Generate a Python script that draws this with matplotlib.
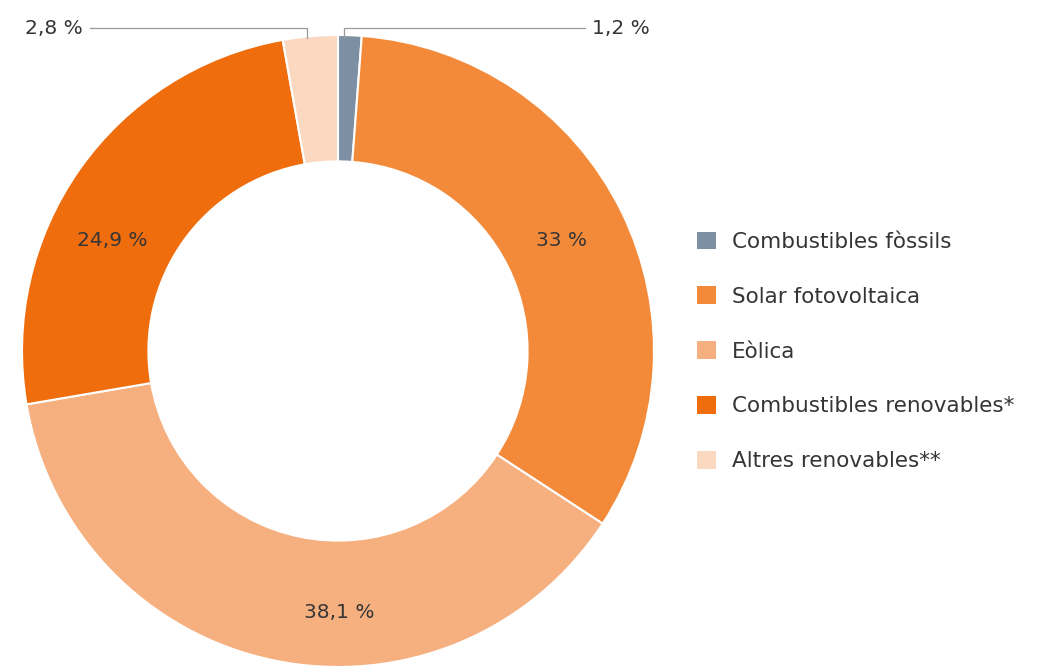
import matplotlib.pyplot as plt
from matplotlib.patches import Patch

plt.rcParams['font.family'] = ['DejaVu Sans']

categories = ['Combustibles fòssils', 'Solar fotovoltaica', 'Eòlica',
              'Combustibles renovables*', 'Altres renovables**']
shares = [1.2, 33.0, 38.1, 24.9, 2.8]
share_labels = ['1,2 %', '33 %', '38,1 %', '24,9 %', '2,8 %']
colors = ['#7d8fa3', '#f28a3a', '#f6b07f', '#ef6d0d', '#fbd9c1']

fig = plt.figure(figsize=(10.4, 6.71), dpi=100)
ax = fig.add_axes([0, 0, 1, 1])

cx, cy, r = 338, 351, 316
wedges, _ = ax.pie(shares, colors=colors, startangle=-90, counterclock=True,
                   center=(cx, cy), radius=r, frame=True,
                   wedgeprops=dict(width=r * 0.4, edgecolor='white', linewidth=1.5))
ax.set_xlim(0, 1040)
ax.set_ylim(671, 0)
ax.set_aspect('equal')
ax.axis('off')

txt = '#353535'
fs = 14.5
# labels inside the ring
ax.text(562, 240, share_labels[1], fontsize=fs, color=txt, ha='center', va='center')
ax.text(339, 613, share_labels[2], fontsize=fs, color=txt, ha='center', va='center')
ax.text(112, 240, share_labels[3], fontsize=fs, color=txt, ha='center', va='center')

# small slices with leader lines
ax.text(592, 28, share_labels[0], fontsize=fs, color=txt, ha='left', va='center')
ax.plot([585, 344, 344], [28, 28, 38], color='#999999', lw=0.9)
ax.text(83, 28, share_labels[4], fontsize=fs, color=txt, ha='right', va='center')
ax.plot([90, 307, 307], [28, 28, 38], color='#999999', lw=0.9)

handles = [Patch(facecolor=c, edgecolor='none') for c in colors]
leg = ax.legend(handles, categories, loc='upper left', bbox_to_anchor=(688 / 1040, 1 - 223 / 671),
                frameon=False, fontsize=15.5, labelspacing=1.6, handlelength=0.9,
                handleheight=0.9, handletextpad=0.75, borderaxespad=0)
for t in leg.get_texts():
    t.set_color(txt)

fig.savefig('out.png', dpi=100)
